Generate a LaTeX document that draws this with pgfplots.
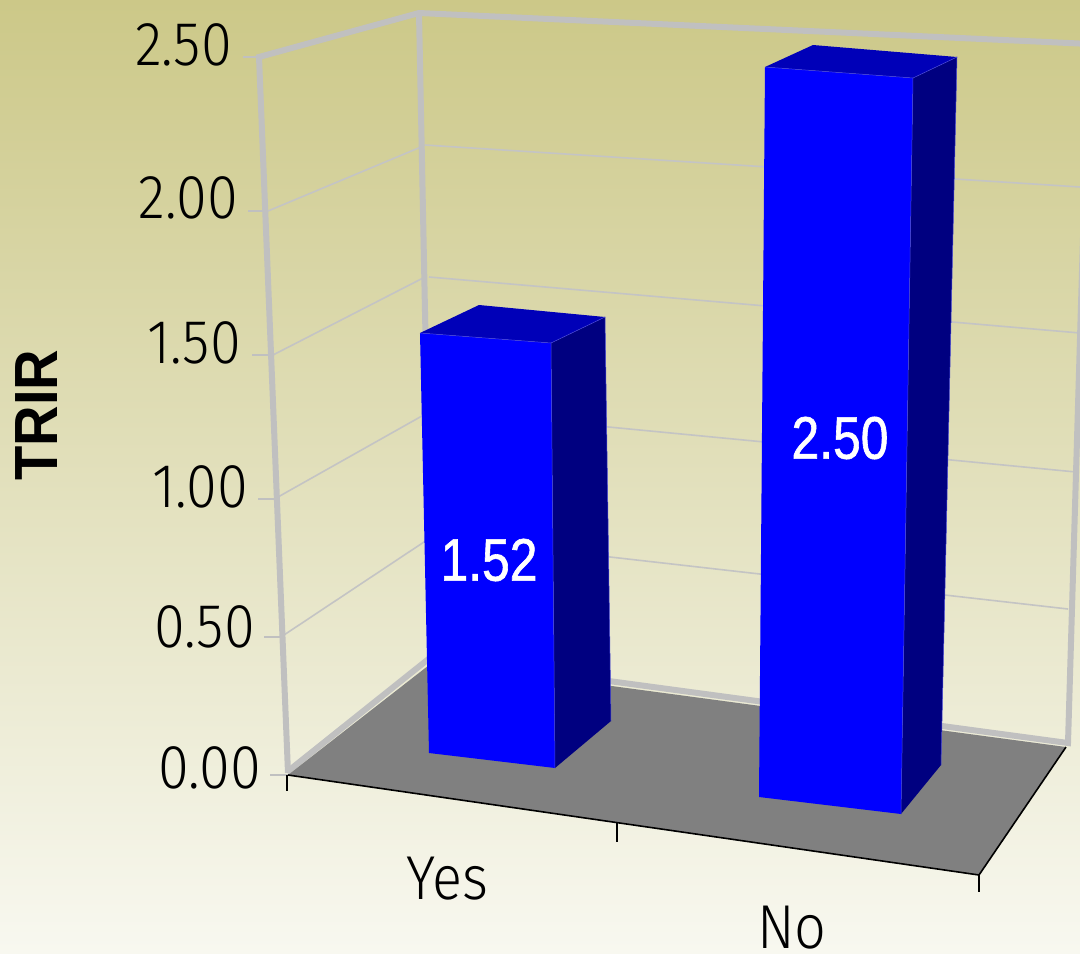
\documentclass[border=0pt]{standalone}
\usepackage{pgfplots}
\pgfplotsset{compat=1.18}
\usepackage{fontspec}
\setmainfont{Liberation Sans}
\newfontfamily\lightf[FakeStretch=0.90]{Fira Sans Light}
\newfontfamily\regf[FakeStretch=0.83,FakeBold=1]{Liberation Sans}
\newfontfamily\boldf[FakeStretch=0.92]{Liberation Sans Bold}
\newcommand\ls{\lightf\fontsize{62}{62}\selectfont}
\newcommand\rs{\regf\fontsize{60}{60}\selectfont}
\newcommand\bs{\boldf\fontsize{61}{61}\selectfont}
\definecolor{bgtop}{HTML}{CCC888}
\definecolor{bgbot}{HTML}{F8F8F0}
\definecolor{wall}{HTML}{C0C0C0}
\definecolor{gridc}{HTML}{C4C4C4}
\definecolor{floorc}{HTML}{808080}
\definecolor{front}{HTML}{0000FF}
\definecolor{topf}{HTML}{0000B8}
\definecolor{sidef}{HTML}{000080}
\definecolor{edge}{HTML}{4A4AD8}
\begin{document}
\begin{tikzpicture}[x=1pt,y=1pt]
\path[top color=bgtop,bottom color=bgbot] (0,0) rectangle (1080,954);
\begin{axis}[
  at={(0,0)},anchor=south west,
  scale only axis,width=1080pt,height=954pt,
  xmin=0,xmax=1080,ymin=0,ymax=954,y dir=reverse,
  hide axis,no markers,
  every axis plot/.append style={line cap=butt,line join=miter},
]
% thin grid lines: side wall
\addplot[gridc,line width=1.6pt] coordinates {(268,211)(421,147)};
\addplot[gridc,line width=1.6pt] coordinates {(273,355)(425,277)};
\addplot[gridc,line width=1.6pt] coordinates {(278,497)(429,412)};
\addplot[gridc,line width=1.6pt] coordinates {(284,635)(433,536)};
% thin grid lines: back wall
\addplot[gridc,line width=1.6pt] coordinates {(425,145)(1080,187)};
\addplot[gridc,line width=1.6pt] coordinates {(429,277)(1080,333)};
\addplot[gridc,line width=1.6pt] coordinates {(432,410)(1076,472)};
\addplot[gridc,line width=1.6pt] coordinates {(434,537)(1068,609)};
% y ticks
\addplot[wall,line width=1.6pt] coordinates {(243,57)(258,57)};
\addplot[wall,line width=1.6pt] coordinates {(248,211)(265,211)};
\addplot[wall,line width=1.6pt] coordinates {(252,355)(271,355)};
\addplot[wall,line width=1.6pt] coordinates {(258,499)(276,499)};
\addplot[wall,line width=1.6pt] coordinates {(264,637)(282,637)};
\addplot[wall,line width=1.6pt] coordinates {(270,775)(288,775)};
% wall frame
\addplot[wall,line width=6pt] coordinates {(288,773)(259,57)(419,13)(1090,44)};
\addplot[wall,line width=6pt] coordinates {(419,13)(432,660)};
\addplot[wall,line width=6pt] coordinates {(287,772)(431,657)(1068,743)(1085,170)};
% floor
\addplot[fill=floorc,draw=none] coordinates {(288,775)(433,662)(1066,747)(979,875)} -- cycle;
\addplot[black,line width=1.6pt] coordinates {(288,775)(979,875)(1066,747)};
\addplot[black,line width=1.6pt] coordinates {(287,775)(287,791)};
\addplot[black,line width=1.6pt] coordinates {(617,823)(617,842)};
\addplot[black,line width=1.6pt] coordinates {(979,875)(979,892)};
% bar Yes (1.52)
\addplot[fill=sidef,draw=none] coordinates {(551,343)(605,317)(611,721)(555,768)} -- cycle;
\addplot[fill=topf,draw=none] coordinates {(420,333)(479,305)(605,317)(551,343)} -- cycle;
\addplot[fill=front,draw=none] coordinates {(420,333)(551,343)(555,768)(429,753)} -- cycle;
\addplot[edge,line width=.5pt] coordinates {(420,333)(551,343)(555,768)};
\addplot[edge,line width=.5pt] coordinates {(551,343)(605,317)(611,721)};
% bar No (2.50)
\addplot[fill=sidef,draw=none] coordinates {(913,78)(957,57)(941,765)(901,814)} -- cycle;
\addplot[fill=topf,draw=none] coordinates {(765,67)(813,45)(957,57)(913,78)} -- cycle;
\addplot[fill=front,draw=none] coordinates {(765,67)(913,78)(901,814)(759,797)} -- cycle;
\addplot[edge,line width=.5pt] coordinates {(765,67)(913,78)(901,814)};
\addplot[edge,line width=.5pt] coordinates {(913,78)(957,57)(941,765)};
% texts
\node[inner sep=0pt,anchor=east] at (232,45) {\ls 2.50};
\node[inner sep=0pt,anchor=east] at (238,198) {\ls 2.00};
\node[inner sep=0pt,anchor=east] at (241,343) {\ls 1.50};
\node[inner sep=0pt,anchor=east] at (248,487) {\ls 1.00};
\node[inner sep=0pt,anchor=east] at (255,627) {\ls 0.50};
\node[inner sep=0pt,anchor=east] at (261,768) {\ls 0.00};
\node[inner sep=0pt] at (447,879) {\ls Yes};
\node[inner sep=0pt] at (792,928) {\ls No};
\node[inner sep=0pt,white] at (489,560) {\rs 1.52};
\node[inner sep=0pt,white] at (840,438) {\rs 2.50};
\node[inner sep=0pt,rotate=90] at (37,415) {\bs TRIR};
\end{axis}
\end{tikzpicture}
\end{document}
